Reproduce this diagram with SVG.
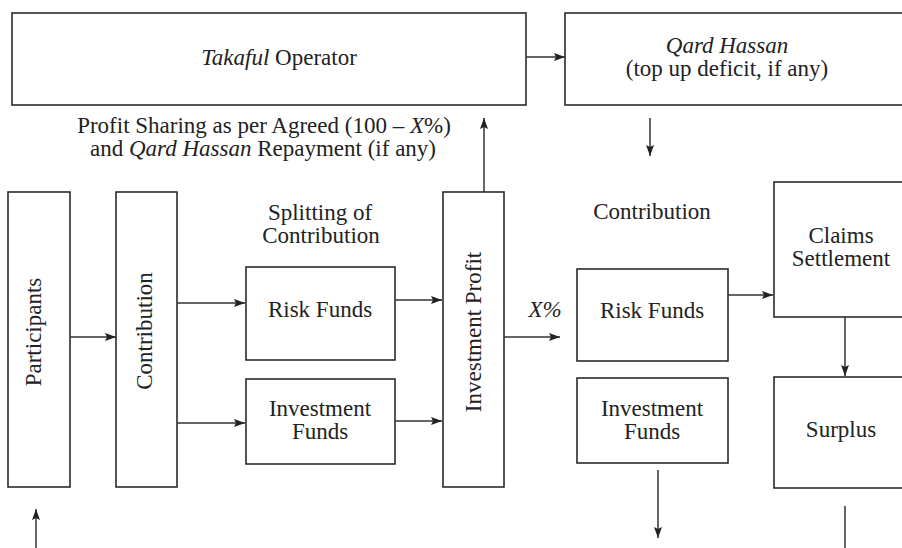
<svg xmlns="http://www.w3.org/2000/svg" width="902" height="548" viewBox="0 0 902 548">
<defs>
<marker id="ah" viewBox="0 0 11 8" refX="11" refY="4" markerWidth="11" markerHeight="8" markerUnits="userSpaceOnUse" orient="auto">
<path d="M0,0 L11,4 L0,8 L2,4 Z" fill="#222"/>
</marker>
<style>
.box{fill:#fff;stroke:#2b2b2b;stroke-width:1.6}
.t{font-family:"Liberation Serif","Times New Roman",serif;font-size:23px;fill:#222;text-anchor:middle}
.i{font-style:italic}
.c{fill:none;stroke:#333;stroke-width:1.5}
.a{marker-end:url(#ah)}
</style>
</defs>
<rect width="902" height="548" fill="#fff"/>

<g id="takaful-operator">
<rect class="box" x="12" y="13" width="514" height="92"/>
<text class="t" x="279" y="65"><tspan class="i">Takaful</tspan> Operator</text>
</g>

<g id="qard-hassan">
<rect class="box" x="565" y="13" width="345" height="92"/>
<text class="t" x="727" y="53"><tspan class="i">Qard Hassan</tspan></text>
<text class="t" x="727" y="76">(top up deficit, if any)</text>
</g>

<g id="profit-sharing-label">
<text class="t" x="264" y="133">Profit Sharing as per Agreed (100 – <tspan class="i">X</tspan>%)</text>
<text class="t" x="263" y="156">and <tspan class="i">Qard Hassan</tspan> Repayment (if any)</text>
</g>

<g id="participants">
<rect class="box" x="8" y="192" width="62" height="295"/>
<text class="t" transform="translate(41,332) rotate(-90)">Participants</text>
</g>

<g id="contribution">
<rect class="box" x="116" y="192" width="61" height="295"/>
<text class="t" transform="translate(152,331) rotate(-90)">Contribution</text>
</g>

<g id="splitting-label">
<text class="t" x="320" y="220">Splitting of</text>
<text class="t" x="321" y="243">Contribution</text>
</g>

<g id="risk-funds-1">
<rect class="box" x="246" y="267" width="149" height="93"/>
<text class="t" x="320" y="317">Risk Funds</text>
</g>

<g id="investment-funds-1">
<rect class="box" x="246" y="379" width="149" height="85"/>
<text class="t" x="320" y="416">Investment</text>
<text class="t" x="320" y="439">Funds</text>
</g>

<g id="investment-profit">
<rect class="box" x="443" y="192" width="61" height="295"/>
<text class="t" transform="translate(481,332) rotate(-90)">Investment Profit</text>
</g>

<g id="x-percent-label">
<text class="t i" x="545" y="317">X%</text>
</g>

<g id="contribution-label">
<text class="t" x="652" y="219">Contribution</text>
</g>

<g id="risk-funds-2">
<rect class="box" x="577" y="269" width="151" height="92"/>
<text class="t" x="652" y="318">Risk Funds</text>
</g>

<g id="investment-funds-2">
<rect class="box" x="577" y="378" width="151" height="85"/>
<text class="t" x="652" y="416">Investment</text>
<text class="t" x="652" y="439">Funds</text>
</g>

<g id="claims-settlement">
<rect class="box" x="774" y="182" width="136" height="135"/>
<text class="t" x="841" y="243">Claims</text>
<text class="t" x="841" y="266">Settlement</text>
</g>

<g id="surplus">
<rect class="box" x="774" y="377" width="136" height="111"/>
<text class="t" x="841" y="437">Surplus</text>
</g>

<g id="connectors">
<line class="c a" x1="526" y1="57" x2="565" y2="57"/>
<line class="c a" x1="650" y1="118" x2="650" y2="156"/>
<line class="c a" x1="484" y1="192" x2="484" y2="118"/>
<line class="c a" x1="70" y1="337" x2="116" y2="337"/>
<line class="c a" x1="177" y1="303" x2="245" y2="303"/>
<line class="c a" x1="177" y1="423" x2="245" y2="423"/>
<line class="c a" x1="395" y1="300" x2="442" y2="300"/>
<line class="c a" x1="395" y1="421" x2="442" y2="421"/>
<line class="c a" x1="504" y1="337" x2="560" y2="337"/>
<line class="c a" x1="728" y1="295" x2="773" y2="295"/>
<line class="c a" x1="845" y1="317" x2="845" y2="376"/>
<line class="c a" x1="658" y1="470" x2="658" y2="538"/>
<line class="c" x1="845" y1="506" x2="845" y2="548"/>
<line class="c a" x1="36" y1="548" x2="36" y2="509"/>
</g>
</svg>
